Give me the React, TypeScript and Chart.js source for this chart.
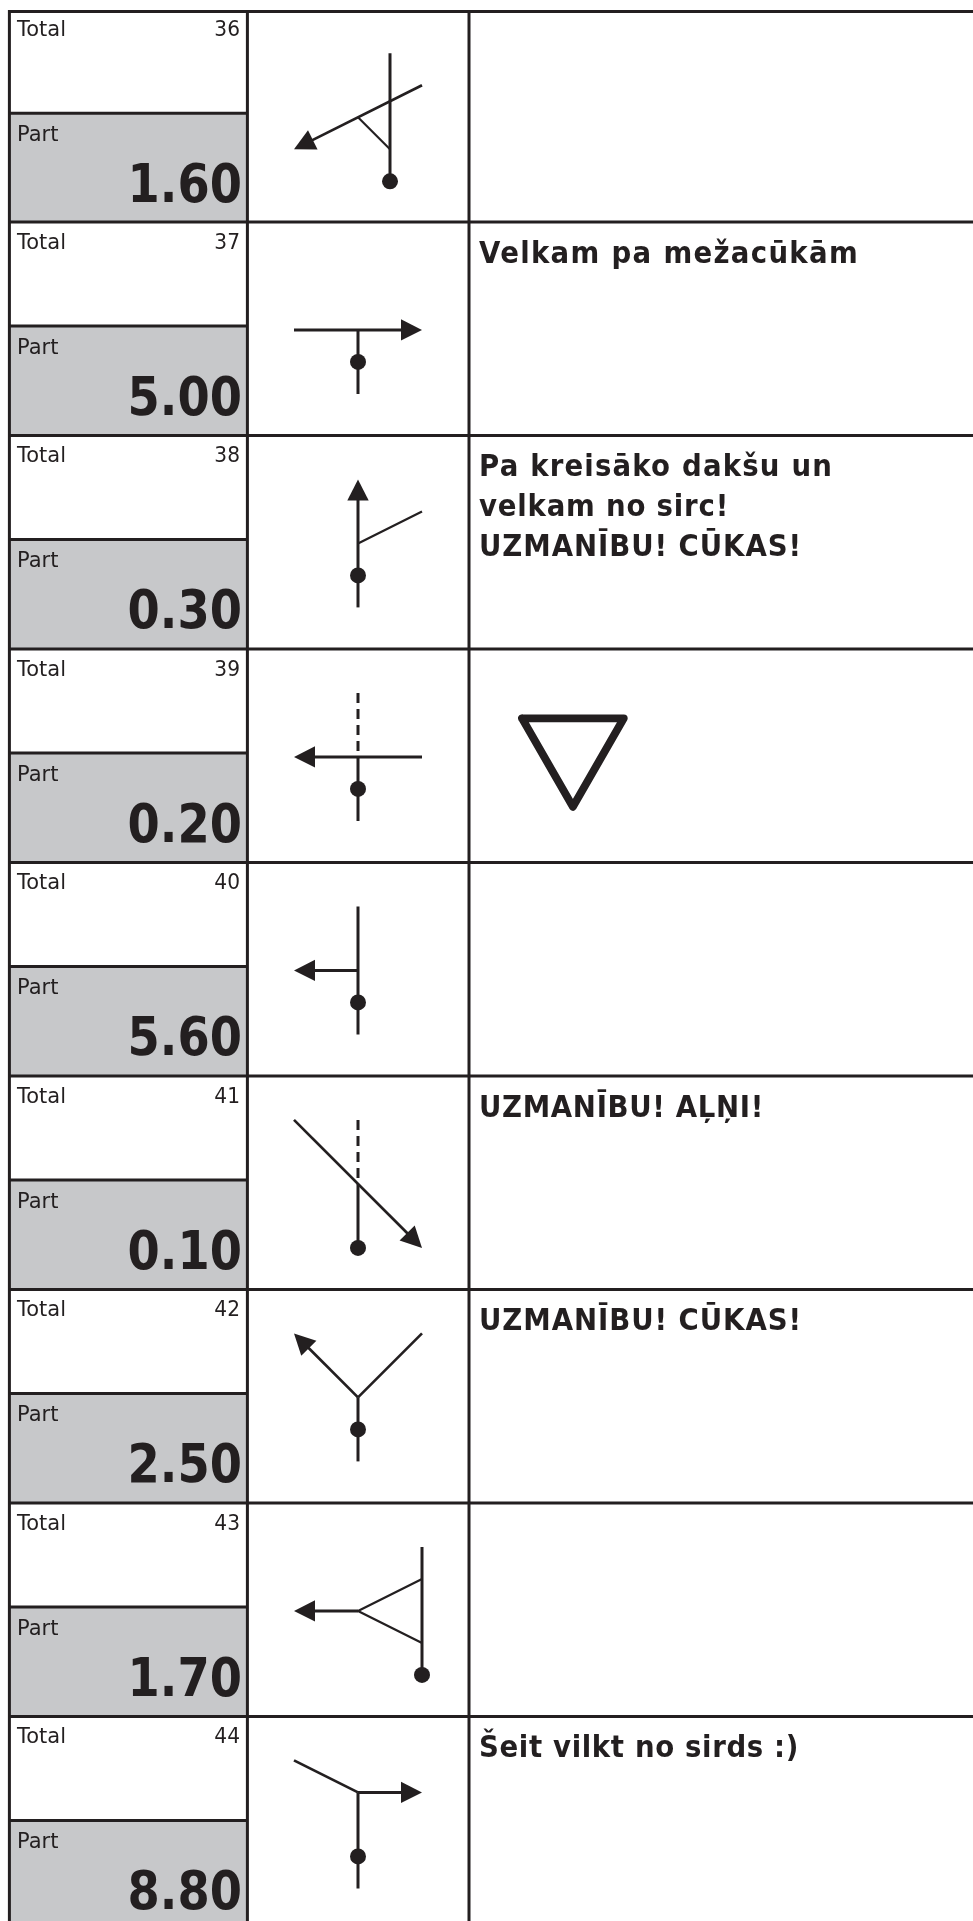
import React, { useEffect, useRef } from "react";
import { Chart, registerables } from "chart.js";

Chart.register(...registerables);

const rowNumbers = [36, 37, 38, 39, 40, 41, 42, 43, 44];
const partValues = ["1.60", "5.00", "0.30", "0.20", "5.60", "0.10", "2.50", "1.70", "8.80"];
const notes: string[][] = [
  [],
  ["Velkam pa mežacūkām"],
  ["Pa kreisāko dakšu un", "velkam no sirc!", "UZMANĪBU! CŪKAS!"],
  [],
  [],
  ["UZMANĪBU! AĻŅI!"],
  ["UZMANĪBU! CŪKAS!"],
  [],
  ["Šeit vilkt no sirds :)"],
];
const noteRightEdges: number[][] = [[], [859], [833, 729, 802], [], [], [764], [802], [], [799]];

// Each stroke: [fromCol, fromRow, toCol, toRow] on a 5x5 junction grid
type S = number[];
const solid: S[][] = [
  [[3, 0, 3, 4], [4, 1, 0, 3]],
  [[0, 2, 4, 2], [2, 2, 2, 4]],
  [[2, 4, 2, 0]],
  [[2, 2, 2, 4], [4, 2, 0, 2]],
  [[2, 0, 2, 4], [2, 2, 0, 2]],
  [[2, 2, 2, 4], [0, 0, 4, 4]],
  [[2, 4, 2, 2], [4, 0, 2, 2], [2, 2, 0, 0]],
  [[4, 0, 4, 4], [2, 2, 0, 2]],
  [[0, 0, 2, 1], [2, 1, 4, 1], [2, 1, 2, 4]],
];
const thin: S[][] = [
  [[2, 2, 3, 3]],
  [],
  [[2, 2, 4, 1]],
  [],
  [],
  [],
  [],
  [[2, 2, 4, 1], [2, 2, 4, 3]],
  [],
];
const dashed: S[][] = [[], [], [], [[2, 0, 2, 2]], [], [[2, 0, 2, 2]], [], [], []];
// index of the solid stroke that ends in an arrowhead
const arrowStroke = [1, 0, 0, 1, 1, 1, 2, 1, 1];
const dots: number[][] = [[3, 4], [2, 3], [2, 3], [2, 3], [2, 3], [2, 4], [2, 3], [4, 4], [2, 3]];

const yieldSign = [[522.0, 0], [623.8, 0], [572.9, 88.5], [522.0, 0]];

const INK = "#231f20";
const GREY = "#c7c8ca";
const W = 973;
const H = 1921;
const FIRST_LINE = 11.4;
const PART = 104;
const COLS = [9.4, 247.4, 469];

const rowTop = (r: number) => (r === 0 ? 9.3 : 8.4 + 213.5 * r);
const gx = (c: number) => 294 + 32 * c;
const gy = (r: number, g: number) => rowTop(r) + 44 + 32 * g;

const line = (pts: number[][], width: number, extra: any = {}) => ({
  data: pts.map(([x, y]) => ({ x, y })),
  showLine: true,
  borderColor: INK,
  borderWidth: width,
  pointRadius: 0,
  fill: false,
  order: 2,
  clip: false,
  ...extra,
});

function buildDatasets() {
  const ds: any[] = [];
  rowNumbers.forEach((_, r) => {
    const top = rowTop(r);
    const lineY = r === 0 ? FIRST_LINE : top;
    const bottom = r < 8 ? rowTop(r + 1) : H;
    ds.push({
      data: [
        { x: COLS[0], y: top + PART },
        { x: COLS[1], y: top + PART },
        { x: COLS[1], y: bottom },
        { x: COLS[0], y: bottom },
      ],
      showLine: true,
      borderWidth: 0,
      pointRadius: 0,
      backgroundColor: GREY,
      fill: "shape",
      order: 5,
      clip: false,
    });
    ds.push(line([[COLS[0], top + PART], [COLS[1], top + PART]], 3));
    ds.push(line([[COLS[0], lineY], [W, lineY]], 3));
    solid[r].forEach((s, i) => {
      const [a, b, c, d] = s;
      const from = [gx(a), gy(r, b)];
      let to = [gx(c), gy(r, d)];
      const straight = a === c || b === d;
      if (i === arrowStroke[r]) {
        const dx = to[0] - from[0];
        const dy = to[1] - from[1];
        const len = Math.hypot(dx, dy);
        const ux = dx / len;
        const uy = dy / len;
        const bx = to[0] - ux * 21;
        const by = to[1] - uy * 21;
        ds.push({
          data: [
            { x: to[0], y: to[1] },
            { x: bx - uy * 10.7, y: by + ux * 10.7 },
            { x: bx + uy * 10.7, y: by - ux * 10.7 },
          ],
          showLine: true,
          borderWidth: 0,
          pointRadius: 0,
          backgroundColor: INK,
          fill: "shape",
          order: 1,
          clip: false,
        });
        to = [bx + ux, by + uy];
      }
      ds.push(line([from, to], straight ? 3 : 2.7));
    });
    thin[r].forEach(([a, b, c, d]) => ds.push(line([[gx(a), gy(r, b)], [gx(c), gy(r, d)]], 2.2)));
    dashed[r].forEach(([a, b, c, d]) =>
      ds.push(line([[gx(a), gy(r, b)], [gx(c), gy(r, d)]], 3, { borderDash: [10, 6] }))
    );
    ds.push({
      data: [{ x: gx(dots[r][0]), y: gy(r, dots[r][1]) }],
      showLine: false,
      pointStyle: "circle",
      pointRadius: 8,
      pointBorderWidth: 0,
      pointBackgroundColor: INK,
      order: 1,
      clip: false,
    });
  });
  COLS.forEach((x) => ds.push(line([[x, FIRST_LINE - 1.5], [x, H]], 3)));
  const signTop = rowTop(3) + 69.4;
  ds.push(
    line(
      yieldSign.map(([x, y]) => [x, signTop + y]),
      7.8,
      { borderJoinStyle: "round", borderCapStyle: "round" }
    )
  );
  return ds;
}

const NOTE_LEFT = 479;
const NOTE_SX = 0.92;

const textPlugin = {
  id: "tableText",
  afterDraw(chart: any) {
    const { ctx, scales } = chart;
    const put = (
      text: string,
      x: number,
      y: number,
      font: string,
      align: CanvasTextAlign,
      sx: number,
      rightEdge?: number
    ) => {
      ctx.save();
      ctx.translate(scales.x.getPixelForValue(x), scales.y.getPixelForValue(y));
      ctx.scale(sx, 1);
      ctx.font = font;
      ctx.fillStyle = INK;
      ctx.textAlign = align;
      ctx.textBaseline = "alphabetic";
      if (rightEdge !== undefined) {
        const natural = ctx.measureText(text).width;
        (ctx as any).letterSpacing = `${((rightEdge - x) / sx - natural) / text.length}px`;
      }
      ctx.fillText(text, 0, 0);
      ctx.restore();
    };
    const regular = '21px "DejaVu Sans"';
    const big = 'bold 53px "DejaVu Sans"';
    const note = 'bold 30px "DejaVu Sans"';
    rowNumbers.forEach((n, r) => {
      const top = rowTop(r);
      put("Total", 17, top + 27, regular, "left", 1);
      put(String(n), 240, top + 27, regular, "right", 0.96);
      put("Part", 17, top + 131.6, regular, "left", 1);
      put(partValues[r], 242, top + 193, big, "right", 0.875);
      notes[r].forEach((t, i) =>
        put(t, NOTE_LEFT, top + 40.6 + i * 40, note, "left", NOTE_SX, noteRightEdges[r][i])
      );
    });
  },
};

export default function App() {
  const ref = useRef<HTMLCanvasElement>(null);
  useEffect(() => {
    document.body.style.margin = "0";
    const chart = new Chart(ref.current!, {
      type: "scatter",
      data: { datasets: buildDatasets() },
      options: {
        animation: false,
        responsive: false,
        layout: { padding: 0, autoPadding: false },
        plugins: { legend: { display: false }, tooltip: { enabled: false }, title: { display: false } },
        scales: {
          x: { type: "linear", min: 0, max: W, display: false },
          y: { type: "linear", min: 0, max: H, reverse: true, display: false },
        },
      },
      plugins: [textPlugin],
    } as any);
    return () => chart.destroy();
  }, []);
  return (
    <div style={{ position: "absolute", left: 0, top: 0, width: W, height: H, overflow: "hidden", background: "#fff" }}>
      <canvas ref={ref} width={W} height={H} style={{ display: "block" }} />
    </div>
  );
}
